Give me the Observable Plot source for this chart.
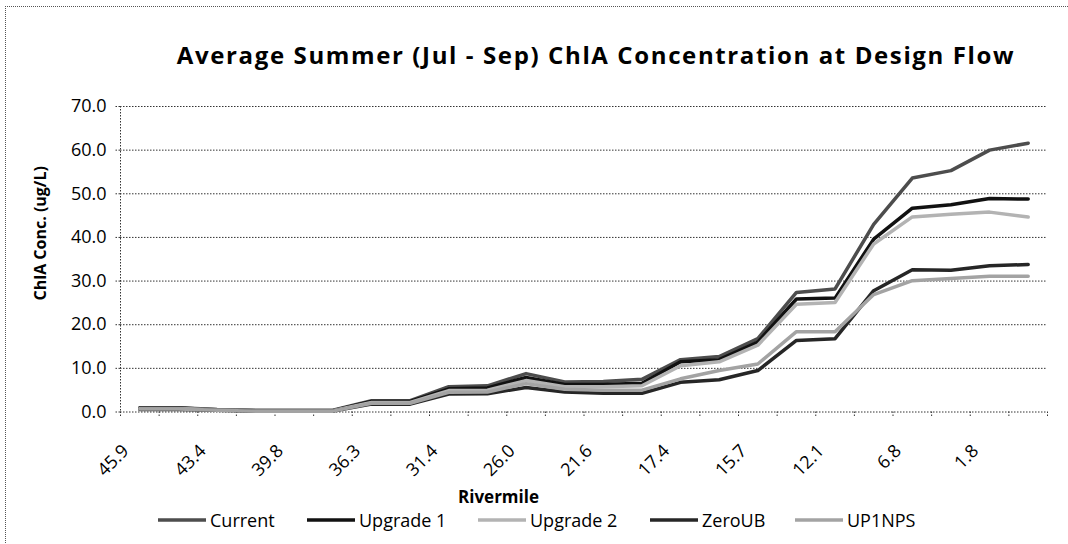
<!DOCTYPE html>
<html>
<head>
<meta charset="utf-8">
<script src="https://cdn.jsdelivr.net/npm/d3@7"></script>
<script src="https://cdn.jsdelivr.net/npm/@observablehq/plot@0.6"></script>
<style>
  body { margin: 0; background: #fff; }
  #chart { position: relative; width: 1068px; height: 544px; overflow: hidden; background: #fff; font-family: "Open Sans", sans-serif; color: #000; }
  #frame { position: absolute; left: 5px; top: 6px; width: 1070px; height: 560px; border-top: 1px dotted #555; border-left: 1px dotted #555; pointer-events: none; }
  #title { position: relative; height: 90px; }
  #title span { position: absolute; left: 596px; top: 40px; transform: translateX(-50%); white-space: nowrap; font-weight: 700; font-size: 24px; line-height: 30px; }
  #plot svg { display: block; }
  #legend { position: relative; height: 34px; }
  .item { position: absolute; top: 0; height: 20px; display: flex; align-items: center; font-size: 18px; white-space: nowrap; }
  .item svg { margin-right: 4px; }
</style>
</head>
<body>
<div id="chart">
  <div id="title"><span>Average Summer (Jul - Sep) ChlA Concentration at Design Flow</span></div>
  <div id="plot"></div>
  <div id="legend"></div>
  <div id="frame"></div>
</div>
<script>
// Tick labels shown on every other river-mile category (24 categories in all)
const tickLabels = ["45.9","43.4","39.8","36.3","31.4","26.0","21.6","17.4","15.7","12.1","6.8","1.8"];
const categoryCount = 24;
const yTicks = [0, 10, 20, 30, 40, 50, 60, 70];

const seriesNames = ["Current", "Upgrade 1", "Upgrade 2", "ZeroUB", "UP1NPS"];
const current  = [1.0,1.0,0.6,0.4,0.4,0.4,2.6,2.6,5.8,6.0,8.8,6.9,7.0,7.5,12.0,12.7,16.8,27.4,28.2,43.0,53.6,55.3,60.0,61.6];
const upgrade1 = [0.9,0.9,0.5,0.3,0.3,0.3,2.4,2.4,5.3,5.5,7.9,6.3,6.3,6.6,11.5,12.0,16.0,25.9,26.1,39.6,46.7,47.5,48.9,48.8];
const upgrade2 = [0.8,0.8,0.5,0.3,0.3,0.3,2.2,2.2,4.9,5.0,7.2,5.8,5.8,6.0,10.6,11.5,15.3,24.7,25.1,38.5,44.7,45.3,45.8,44.7];
const zeroUB   = [0.6,0.6,0.4,0.2,0.2,0.2,1.8,1.8,4.1,4.2,5.6,4.6,4.3,4.3,6.8,7.4,9.5,16.4,16.8,27.8,32.6,32.5,33.5,33.8];
const up1nps   = [0.7,0.7,0.4,0.2,0.2,0.2,2.0,2.0,4.5,4.6,6.5,5.2,5.0,5.0,7.6,9.5,11.0,18.4,18.4,26.9,30.1,30.6,31.1,31.1];
const seriesValues = [current, upgrade1, upgrade2, zeroUB, up1nps];
const seriesColors = ["#4d4d4d", "#111111", "#b3b3b3", "#262626", "#a3a3a3"];

const data = [];
seriesNames.forEach((name, s) => {
  seriesValues[s].forEach((v, i) => data.push({ series: name, i, v }));
});

const boundaries = d3.range(categoryCount + 1).map(k => k - 0.5);
const labelled = d3.range(0, categoryCount, 2);
const dotted = "1.5,1.5";

const chart = Plot.plot({
  width: 1068,
  height: 420,
  marginTop: 16,
  marginBottom: 98.5,
  marginLeft: 120,
  marginRight: 21,
  style: { fontFamily: "Open Sans, sans-serif", fontSize: "18px", color: "#000", background: "#fff" },
  x: { domain: [-0.5, categoryCount - 0.5], axis: null },
  y: { domain: [0, 70], axis: null },
  color: { domain: seriesNames, range: seriesColors },
  marks: [
    Plot.gridY(yTicks, { stroke: "#333", strokeOpacity: 1, strokeDasharray: dotted }),
    Plot.ruleX([-0.5], { stroke: "#333", strokeDasharray: dotted }),
    Plot.axisY({ ticks: yTicks, tickSize: 5, tickPadding: 9, tickFormat: d => d.toFixed(1), label: null, stroke: "#333", strokeDasharray: dotted, fontSize: 18 }),
    Plot.axisX({ ticks: boundaries, tickSize: 5, tickFormat: () => "", label: null, stroke: "#333", strokeDasharray: dotted }),
    Plot.axisX({ ticks: labelled, tickSize: 0, tickPadding: 36, dx: -14, tickRotate: -45, tickFormat: i => tickLabels[i / 2], label: null, fontSize: 18 }),
    Plot.line(data, { x: "i", y: "v", z: "series", stroke: "series", strokeWidth: 3.5, strokeLinejoin: "round", strokeLinecap: "round" }),
    Plot.text(["Rivermile"], { frameAnchor: "bottom-left", dx: 378, dy: 91, fontWeight: "bold", fontSize: 17, textAnchor: "middle" }),
    Plot.text(["ChlA Conc. (ug/L)"], { frameAnchor: "left", dx: -80, dy: -26, rotate: -90, fontWeight: "bold", fontSize: 16, textAnchor: "middle" })
  ]
});
document.getElementById("plot").appendChild(chart);

// Legend
const legendX = [158, 307, 478, 650, 795];
const legend = document.getElementById("legend");
seriesNames.forEach((name, s) => {
  const item = document.createElement("div");
  item.className = "item";
  item.style.left = legendX[s] + "px";
  item.innerHTML = `<svg width="48" height="8"><line x1="0" y1="4" x2="48" y2="4" stroke="${seriesColors[s]}" stroke-width="3.5"/></svg><span>${name}</span>`;
  legend.appendChild(item);
});

// Fit title width to the reference (~837px)
const t = document.querySelector("#title span");
const w = t.getBoundingClientRect().width;
const n = t.textContent.length;
t.style.letterSpacing = ((837 - w) / (n - 1)).toFixed(2) + "px";
</script>
</body>
</html>
